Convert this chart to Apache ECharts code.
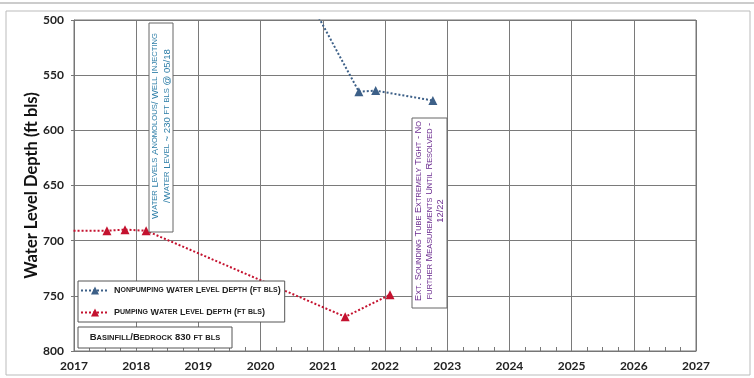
<!DOCTYPE html>
<html><head><meta charset="utf-8">
<script src="https://cdn.jsdelivr.net/npm/echarts@6/dist/echarts.min.js"></script>
<style>html,body{margin:0;padding:0;background:#fff}#c{width:754px;height:378px}</style>
</head><body><div id="c"></div>
<script>
// ---- data ----
const yearTicks = [2017,2018,2019,2020,2021,2022,2023,2024,2025,2026,2027];
const depthTicks = [500,550,600,650,700,750,800];
const nonpumpDates = [2018.37, 2021.58, 2021.85, 2022.77];
const nonpumpDepth = [230, 565, 564, 573];
const nonpumpMarker = [false, true, true, true];
const pumpDates = [2016.8, 2017.53, 2017.82, 2018.16, 2021.36, 2022.08];
const pumpDepth = [691, 691, 690, 691, 769, 749];
const pumpMarker = [false, true, true, true, true, true];
const seriesNames = ['Nonpumping Water Level Depth (ft bls)', 'Pumping Water Level Depth (ft bls)'];
const note1 = ['Water Levels Anomolous/ Well Injecting', '/Water Level ~ 230 ft bls @ 05/18'];
const note2 = ['Ext. Sounding Tube Extremely Tight - No', 'further Measurements Until Resolved -', '12/22'];
const note3 = 'Basinfill/Bedrock 830 ft bls';

// small caps helper
function sc(str){
  let out = '', cur = null, buf = '';
  for (const ch of str){
    const t = (ch !== ch.toUpperCase()) ? 's' : 'b';
    const c = ch.toUpperCase();
    if (t !== cur){ if (buf) out += '{' + cur + '|' + buf + '}'; cur = t; buf = c; }
    else buf += c;
  }
  if (buf) out += '{' + cur + '|' + buf + '}';
  return out;
}
function mk(dates, vals, marks){
  return dates.map((d,i)=>({value:[d, vals[i]], symbolSize: marks[i]?9:0}));
}
const BLUE = '#3d6088', RED = '#c4122f';
const chart = echarts.init(document.getElementById('c'));
const FONT = 'Lato';
chart.setOption({
  animation:false,
  backgroundColor:'#fff',
  grid:{left:74, right:58, top:20, bottom:27, show:false},
  xAxis:{type:'value', min:2017, max:2027, interval:1,
    axisLine:{show:true, onZero:false, lineStyle:{color:'#777', width:1}},
    axisTick:{show:false},
    minorTick:{show:true, splitNumber:4, length:-4, lineStyle:{color:'#777'}},
    splitLine:{show:true, lineStyle:{color:'#7a7a7a', width:1}},
    axisLabel:{formatter:v=>String(v), fontFamily:FONT, fontWeight:'bold', fontSize:12, color:'#222', margin:9}
  },
  yAxis:{type:'value', inverse:true, min:500, max:800, interval:50,
    name:'Water Level Depth (ft bls)', nameLocation:'middle', nameGap:34, nameMoveOverlap:false,
    nameTextStyle:{fontFamily:FONT, fontWeight:'bold', fontSize:16.5, color:'#111'},
    axisLine:{show:true, lineStyle:{color:'#777'}},
    axisTick:{show:true, length:3, lineStyle:{color:'#777'}},
    splitLine:{show:true, lineStyle:{color:'#7a7a7a', width:1}},
    axisLabel:{fontFamily:FONT, fontWeight:'bold', fontSize:12, color:'#222', margin:10}
  },
  legend:{orient:'vertical', left:78, top:281, itemGap:13,
    borderColor:'#555', borderWidth:1, backgroundColor:'#fff', padding:[5,4,5,2],
    itemWidth:28, itemHeight:10,
    data:seriesNames,
    formatter:n=>sc(n),
    textStyle:{color:'#222', fontFamily:'Liberation Sans', fontWeight:'bold',
      rich:{b:{fontSize:9, fontWeight:'bold', fontFamily:'Liberation Sans', color:'#222'},
            s:{fontSize:7, fontWeight:'bold', fontFamily:'Liberation Sans', color:'#222'}}}
  },
  series:[
    {name:seriesNames[0], type:'line', data:mk(nonpumpDates,nonpumpDepth,nonpumpMarker), symbol:'triangle', clip:true,
      itemStyle:{color:BLUE}, lineStyle:{color:BLUE, type:'dotted', width:2}},
    {name:seriesNames[1], type:'line', data:mk(pumpDates,pumpDepth,pumpMarker), symbol:'triangle', clip:true,
      itemStyle:{color:RED}, lineStyle:{color:RED, type:'dotted', width:2}}
  ],
  graphic:[
    {type:'rect', shape:{x:6, y:11, width:744, height:364}, style:{fill:'none', stroke:'#bbb', lineWidth:1}, silent:true},
    {type:'line', shape:{x1:0, y1:3, x2:754, y2:3}, style:{stroke:'#999', lineWidth:1}, silent:true},
    {type:'rect', shape:{x:74, y:20, width:622, height:331}, style:{fill:'none', stroke:'#777', lineWidth:1}, silent:true, z:1},
    {type:'rect', shape:{x:149, y:23, width:24, height:209}, style:{fill:'#fff', stroke:'#666', lineWidth:1}, z:10},
    {type:'text', x:161, y:126, rotation:Math.PI/2, z:11,
      style:{text: sc(note1[0]) + '\n' + sc(note1[1]), align:'center', verticalAlign:'middle', lineHeight:12,
        rich:{b:{fontSize:9.6, fontFamily:'Liberation Sans', fill:'#2f7fa8', lineHeight:12},
              s:{fontSize:7.6, fontFamily:'Liberation Sans', fill:'#2f7fa8', lineHeight:12}}}},
    {type:'rect', shape:{x:412, y:118, width:35, height:190}, style:{fill:'#fff', stroke:'#666', lineWidth:1}, z:10},
    {type:'text', x:429.5, y:211, rotation:Math.PI/2, z:11,
      style:{text: note2.map(sc).join('\n'), align:'center', verticalAlign:'middle', lineHeight:11,
        rich:{b:{fontSize:9.3, fontFamily:'Liberation Sans', fill:'#6a2a8e', lineHeight:11, align:'center'},
              s:{fontSize:7.4, fontFamily:'Liberation Sans', fill:'#6a2a8e', lineHeight:11, align:'center'}}}},
    {type:'rect', shape:{x:78, y:327, width:154, height:21}, style:{fill:'#fff', stroke:'#555', lineWidth:1}, z:10},
    {type:'text', x:155, y:337.5, z:11,
      style:{text: sc(note3), align:'center', verticalAlign:'middle',
        rich:{b:{fontSize:9.5, fontWeight:'bold', fontFamily:'Liberation Sans', fill:'#222'},
              s:{fontSize:7.5, fontWeight:'bold', fontFamily:'Liberation Sans', fill:'#222'}}}}
  ]
});
</script></body></html>
